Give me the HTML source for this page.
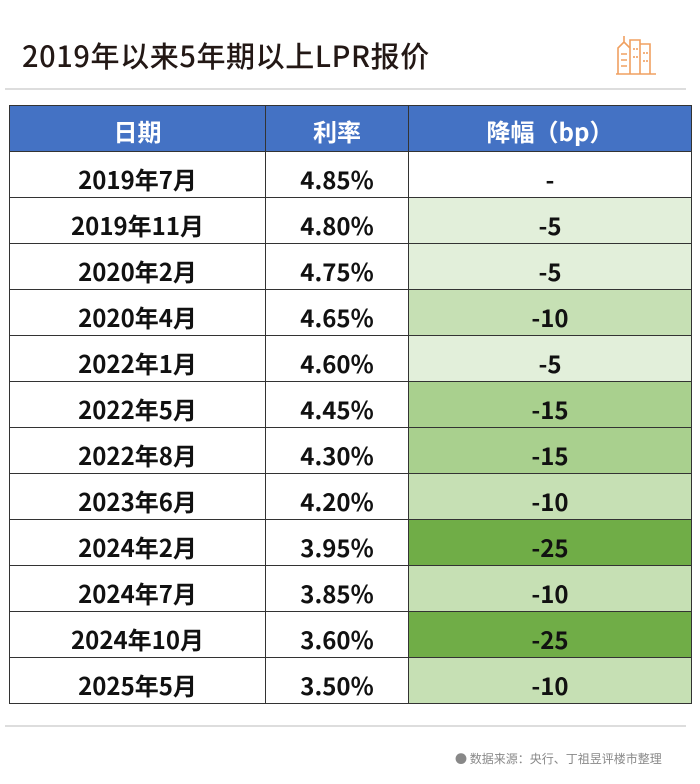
<!DOCTYPE html>
<html><head><meta charset="utf-8"><style>
body{margin:0;width:700px;height:784px;background:#fff;position:relative;overflow:hidden;font-family:"Noto Sans CJK SC","Liberation Sans",sans-serif;}
.title{position:absolute;left:22px;top:35px;font-size:29px;line-height:40px;color:#231815;font-weight:500;letter-spacing:0.6px;}
.line{position:absolute;left:5px;width:681px;height:2px;background:#ddd;}
table{position:absolute;left:9px;top:105px;border-collapse:collapse;width:682px;table-layout:fixed;}
tr{height:46px;}
td,th{border:1px solid #333;height:45px;text-align:center;font-size:24px;line-height:45px;font-weight:bold;color:#111;padding:0;overflow:hidden;font-family:"Noto Sans CJK SC",sans-serif;}
td span{position:relative;top:4px;}
th span{position:relative;top:2px;}
th{background:#4472c4;color:#fff;}
.a{background:#e2efda}.b{background:#c6e0b4}.c{background:#a9d08e}.d{background:#70ad47}
.foot{position:absolute;left:455px;top:750px;font-size:12px;color:#888;}
</style></head><body>
<div class="title">2019年以来5年期以上LPR报价</div>
<svg style="position:absolute;left:614px;top:32px" width="42" height="44" viewBox="0 0 42 44" fill="none" stroke="#f0a060" stroke-width="1.6">
<path d="M4 42V16l6-6 6 6v26M10 10V4M16 42V8h10v34M26 42V12h10v30M2 42h40"/>
<path d="M7 22h6M7 28h6M7 34h6M20 16v2M23 16v2M20 24v2M23 24v2M30 20v2M33 20v2M30 28v2M33 28v2"/>
</svg>
<div class="line" style="top:88px"></div>
<table>
<colgroup><col style="width:256px"><col style="width:143px"><col style="width:283px"></colgroup>
<tr><th><span>日期</span></th><th><span>利率</span></th><th><span>降幅（bp）</span></th></tr>
<tr><td><span>2019年7月</span></td><td><span>4.85%</span></td><td><span>-</span></td></tr>
<tr><td><span>2019年11月</span></td><td><span>4.80%</span></td><td class="a"><span>-5</span></td></tr>
<tr><td><span>2020年2月</span></td><td><span>4.75%</span></td><td class="a"><span>-5</span></td></tr>
<tr><td><span>2020年4月</span></td><td><span>4.65%</span></td><td class="b"><span>-10</span></td></tr>
<tr><td><span>2022年1月</span></td><td><span>4.60%</span></td><td class="a"><span>-5</span></td></tr>
<tr><td><span>2022年5月</span></td><td><span>4.45%</span></td><td class="c"><span>-15</span></td></tr>
<tr><td><span>2022年8月</span></td><td><span>4.30%</span></td><td class="c"><span>-15</span></td></tr>
<tr><td><span>2023年6月</span></td><td><span>4.20%</span></td><td class="b"><span>-10</span></td></tr>
<tr><td><span>2024年2月</span></td><td><span>3.95%</span></td><td class="d"><span>-25</span></td></tr>
<tr><td><span>2024年7月</span></td><td><span>3.85%</span></td><td class="b"><span>-10</span></td></tr>
<tr><td><span>2024年10月</span></td><td><span>3.60%</span></td><td class="d"><span>-25</span></td></tr>
<tr><td><span>2025年5月</span></td><td><span>3.50%</span></td><td class="b"><span>-10</span></td></tr>
</table>
<div class="line" style="top:725px"></div>
<div class="foot">● 数据来源：央行、丁祖昱评楼市整理</div>
</body></html>
